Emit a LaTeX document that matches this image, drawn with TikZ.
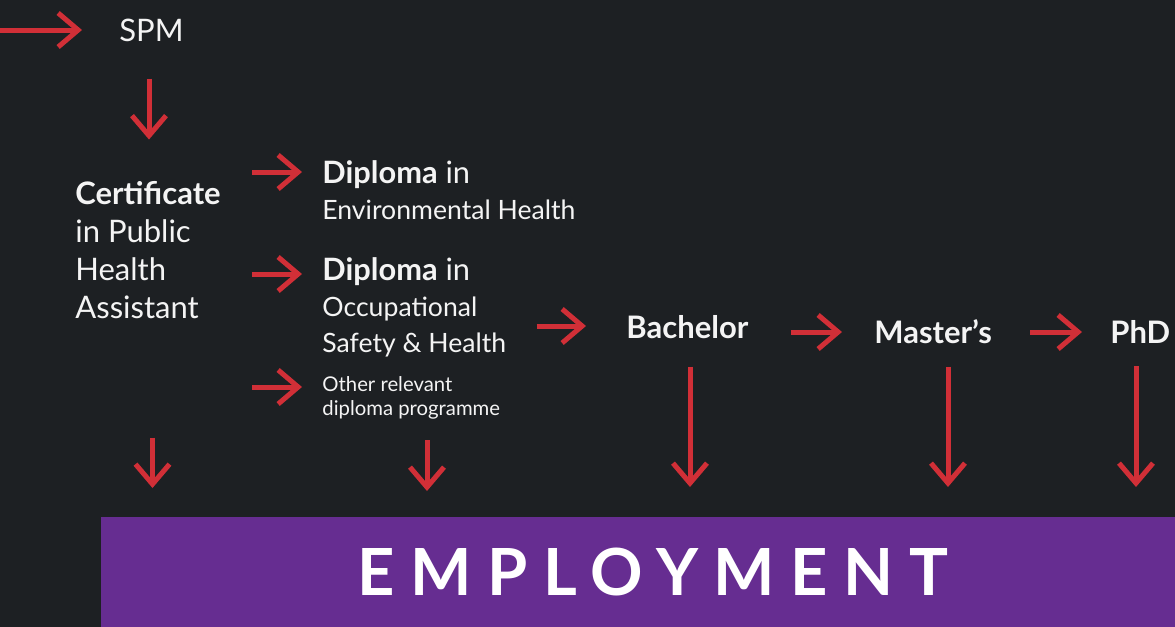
\documentclass[tikz,border=0pt]{standalone}
\usepackage{fontspec}
\setmainfont{Lato}
\usepackage{xcolor}
\definecolor{pageDark}{HTML}{1D2023}
\definecolor{pathRed}{HTML}{D12F37}
\definecolor{jobPurple}{HTML}{662D91}
\definecolor{textWhite}{HTML}{F4F4F4}
\usetikzlibrary{arrows.meta,calc}
\newcommand{\diphead}{{\fontsize{15.4}{17.8}\selectfont\textbf{Diploma} in}}
\tikzset{
  flowarrow/.style={-{Straight Barb[length=10pt,width=17pt]},draw=pathRed,line width=2.5pt},
  stage/.style={inner sep=0pt,text=textWhite,align=left},
  stagebig/.style={stage,font=\fontsize{15.5}{19}\selectfont},
  stagemid/.style={stage,font=\fontsize{13.3}{17.8}\selectfont},
  stagesmall/.style={stage,font=\fontsize{10.15}{11.65}\selectfont},
  degree/.style={stage,font=\fontsize{15.5}{19}\selectfont\bfseries},
  jobbox/.style={rectangle,fill=jobPurple,inner sep=0pt,text=white,
    font=\fontsize{32.5}{36}\selectfont\bfseries\addfontfeature{LetterSpace=24}},
}

\begin{document}
\begin{tikzpicture}[x=0.5pt,y=-0.5pt]
  \fill[pageDark] (0,0) rectangle (1175,627);
  \useasboundingbox (0,0) rectangle (1175,627);

  \node[stagebig, anchor=base west] (spm) at (119,41.5) {SPM};
  \node[stagebig, anchor=base west] (cert) at (75,318) {\textbf{Certificate}\\in Public\\Health\\Assistant};
  \node[stagemid, anchor=base west] (dipEnv) at (322,219) {\diphead\\Environmental Health};
  \node[stagemid, anchor=base west] (dipOsh) at (322,352) {\diphead\\Occupational\\Safety \& Health};
  \node[stagesmall, anchor=base west] (dipOther) at (322,415) {Other relevant\\diploma programme};
  \node[degree, anchor=base west] (bach) at (626,338) {Bachelor};
  \node[degree, anchor=base west] (mast) at (874,343) {Master’s};
  \node[degree, anchor=base west] (phd) at (1110,343) {PhD};
  \node[jobbox, anchor=north west, minimum width=537pt, minimum height=55pt] (emp) at (101,517) {\hspace*{14.5pt}EMPLOYMENT};

  % arrow ends
  \coordinate (entry) at (0,30);
  \coordinate (envIn) at ($(dipEnv.base west)+(0,-47)$);
  \coordinate (oshIn) at ($(dipOsh.base west)+(0,-78)$);
  \coordinate (otherIn) at ($(dipOther.base west)+(0,-28)$);
  \coordinate (bachIn) at ($(bach.base west)+(0,-12)$);
  \coordinate (mastIn) at ($(mast.base west)+(0,-11)$);
  \coordinate (phdIn) at ($(phd.base west)+(0,-11)$);

  \draw[flowarrow, shorten >=18.5pt] (entry) -- (entry -| spm.west);
  \draw[flowarrow, shorten <=18.25pt, shorten >=20.5pt] ($(spm.south west)+(30,0)$) -- ($(spm.south west|-cert.north)+(30,0)$);
  \draw[flowarrow, shorten <=15.5pt, shorten >=10pt] (cert.east |- envIn) -- (envIn);
  \draw[flowarrow, shorten <=15.5pt, shorten >=10pt] (cert.east |- oshIn) -- (oshIn);
  \draw[flowarrow, shorten <=15.5pt, shorten >=10pt] (cert.east |- otherIn) -- (otherIn);
  \draw[flowarrow, shorten <=15pt, shorten >=20pt] (dipOsh.east |- bachIn) -- (bachIn);
  \draw[flowarrow, shorten <=21pt, shorten >=16pt] (bach.east |- mastIn) -- (mastIn);
  \draw[flowarrow, shorten <=19pt, shorten >=14pt] (mast.east |- phdIn) -- (phdIn);

  % down to employment
  \draw[flowarrow, shorten <=59.5pt, shorten >=14.5pt] ($(cert.south west)+(77.5,0)$) -- ($(cert.south west|-emp.north)+(77.5,0)$);
  \draw[flowarrow, shorten <=10.5pt, shorten >=13pt] ($(dipOther.south west)+(105,0)$) -- ($(dipOther.south west|-emp.north)+(105,0)$);
  \draw[flowarrow, shorten <=14pt, shorten >=15pt] ($(bach.south west)+(64,0)$) -- ($(bach.south west|-emp.north)+(64,0)$);
  \draw[flowarrow, shorten <=11.5pt, shorten >=15pt] ($(mast.south west)+(74,0)$) -- ($(mast.south west|-emp.north)+(74,0)$);
  \draw[flowarrow, shorten <=11.5pt, shorten >=15pt] ($(phd.south west)+(26,0)$) -- ($(phd.south west|-emp.north)+(26,0)$);
\end{tikzpicture}
\end{document}
